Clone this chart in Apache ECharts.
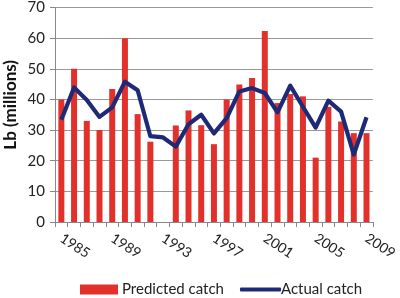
<!DOCTYPE html>
<html>
<head>
<meta charset="utf-8">
<script src="https://cdn.jsdelivr.net/npm/echarts@6/dist/echarts.min.js"></script>
<style>html,body{margin:0;padding:0;background:#fff}#c{width:400px;height:298px}</style>
</head>
<body>
<div id="c"></div>
<script>
var years = ['1985','1986','1987','1988','1989','1990','1991','1992','1993','1994','1995','1996','1997','1998','1999','2000','2001','2002','2003','2004','2005','2006','2007','2008','2009'];
var predicted = [40, 50, 33, 30, 43.4, 60, 35.2, 26.2, null, 31.5, 36.4, 31.6, 25.4, 40, 44.9, 47, 62.3, 38.8, 41.8, 41, 21, 37.6, 32.8, 29, 29];
var actual = [33.4, 43.9, 39.8, 34.3, 37.4, 45.8, 43, 28, 27.6, 24.6, 31.9, 35, 28.9, 33.9, 42.6, 43.7, 42.1, 35.8, 44.5, 37.6, 30.8, 39.6, 36, 22, 34.2];
var yTicks = [0, 10, 20, 30, 40, 50, 60, 70];
var FONT = 'Lato';
var chart = echarts.init(document.getElementById('c'), null, {renderer: 'canvas'});
chart.setOption({
  animation: false,
  backgroundColor: '#fff',
  grid: {left: 55, right: 23, top: 6, bottom: 76},
  legend: [{
    top: 282, left: 80, padding: 0,
    itemWidth: 38, itemHeight: 10,
    textStyle: {fontFamily: FONT, fontSize: 15, color: '#222', padding: [0, 0, 0, -1]},
    data: [{name: 'Predicted catch', icon: 'rect'}]
  }, {
    top: 282, left: 240, padding: 0,
    itemWidth: 41, itemHeight: 4,
    textStyle: {fontFamily: FONT, fontSize: 15, color: '#222', padding: [0, 0, 0, -5]},
    data: [{name: 'Actual catch', icon: 'roundRect', itemStyle: {color: '#1f2a77'}}]
  }],
  graphic: [{
    type: 'text', left: 2, top: 60, rotation: Math.PI / 2,
    style: {text: 'Lb (millions)', font: 'bold 17px ' + FONT, fill: '#111'}
  }],
  xAxis: {
    type: 'category',
    data: years,
    boundaryGap: true,
    axisLine: {lineStyle: {color: '#888', width: 1}},
    axisTick: {show: true, interval: 0, length: 5, lineStyle: {color: '#888'}},
    axisLabel: {interval: 3, rotate: -33, margin: 15, fontFamily: FONT, fontSize: 14, color: '#222'}
  },
  yAxis: {
    type: 'value', min: 0, max: 70, interval: 10,
    axisLine: {show: true, lineStyle: {color: '#888', width: 1}},
    axisTick: {show: true, length: 5, lineStyle: {color: '#888'}},
    splitLine: {lineStyle: {color: '#999', width: 1}},
    axisLabel: {margin: 10, fontFamily: FONT, fontSize: 15, color: '#222',
      formatter: function (v) { return yTicks.indexOf(v) >= 0 ? String(v) : ''; }}
  },
  series: [
    {
      name: 'Predicted catch', type: 'bar', data: predicted,
      barWidth: 6,
      itemStyle: {color: '#e2312a'}
    },
    {
      name: 'Actual catch', type: 'line', data: actual,
      symbol: 'none', connectNulls: true,
      lineStyle: {color: '#1f2a77', width: 4.2, join: 'round'},
      itemStyle: {color: '#1f2a77'}
    }
  ]
});
</script>
</body>
</html>
